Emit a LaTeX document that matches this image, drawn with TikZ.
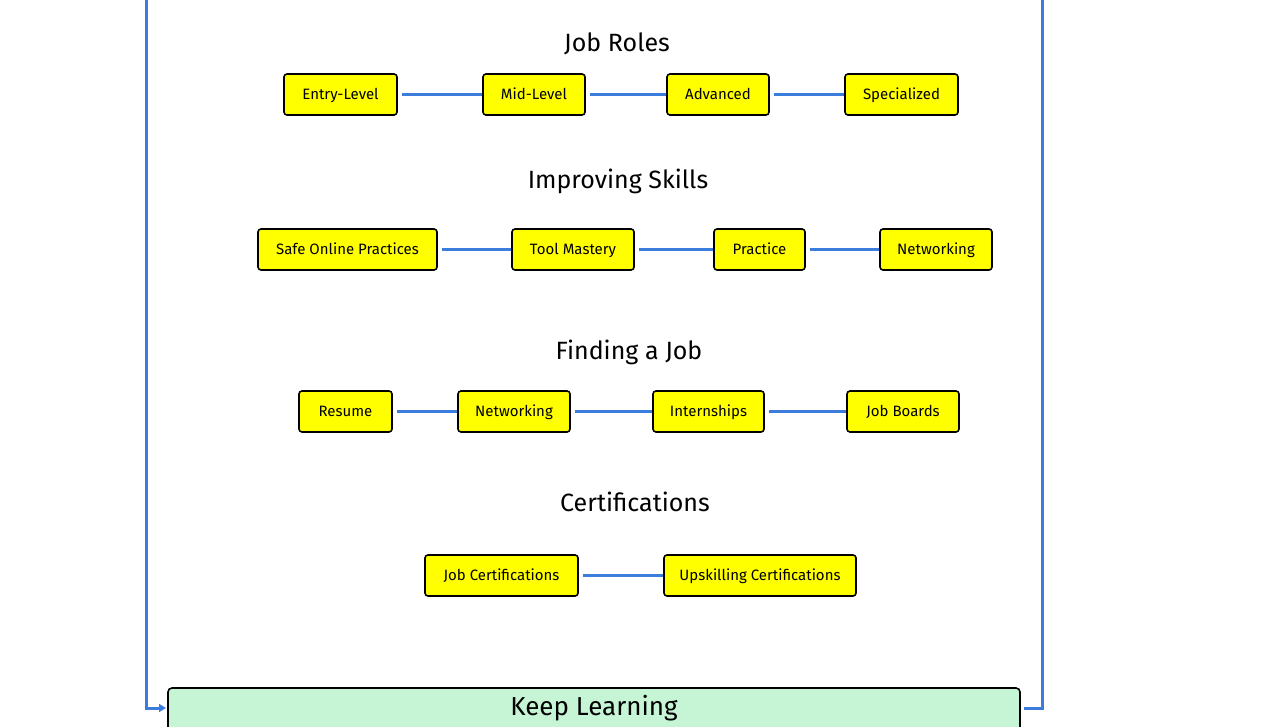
\documentclass[tikz,border=0pt]{standalone}
\usepackage{fontspec}
\setmainfont{Fira Sans}
\usetikzlibrary{arrows.meta}
\definecolor{linkblue}{HTML}{3B7DDD}
\definecolor{boxyellow}{HTML}{FFFF00}
\definecolor{learngreen}{HTML}{C6F5D6}
\tikzset{
  itembox/.style={draw=black, line width=1.6pt, rounded corners=3pt, fill=boxyellow,
    minimum height=41pt, inner sep=0pt, text height=10.3pt, text depth=0pt,
    font=\fontsize{15}{18}\selectfont},
  titletext/.style={font=\fontsize{25}{30}\selectfont, inner sep=0pt, text height=17.2pt, text depth=0pt},
  link/.style={draw=linkblue, line width=3pt, shorten <=4pt},
  flow/.style={draw=linkblue, line width=3pt}
}
\begin{document}
\begin{tikzpicture}[x=1pt,y=-1pt]
\useasboundingbox (0,0) rectangle (1268,727);
% titles
\node[titletext] (t1) at (617,43) {Job Roles};
\node[titletext] (t2) at (618,180) {Improving Skills};
\node[titletext] (t3) at (629,351) {Finding a Job};
\node[titletext] (t4) at (635,503) {Certifications};
% row 1
\node[itembox, minimum width=113pt] (a1) at (340.5,94.5) {Entry-Level};
\node[itembox, minimum width=102pt] (a2) at (534,94.5) {Mid-Level};
\node[itembox, minimum width=102pt] (a3) at (718,94.5) {Advanced};
\node[itembox, minimum width=113pt] (a4) at (901.5,94.5) {Specialized};
\draw[link] (a1) -- (a2);
\draw[link] (a2) -- (a3);
\draw[link] (a3) -- (a4);
% row 2
\node[itembox, minimum width=179pt] (b1) at (347.5,249.5) {Safe Online Practices};
\node[itembox, minimum width=122pt] (b2) at (573,249.5) {Tool Mastery};
\node[itembox, minimum width=91pt] (b3) at (759.5,249.5) {Practice};
\node[itembox, minimum width=112pt] (b4) at (936,249.5) {Networking};
\draw[link] (b1) -- (b2);
\draw[link] (b2) -- (b3);
\draw[link] (b3) -- (b4);
% row 3
\node[itembox, minimum width=93pt] (c1) at (345.5,411.5) {Resume};
\node[itembox, minimum width=112pt] (c2) at (514,411.5) {Networking};
\node[itembox, minimum width=111pt] (c3) at (708.5,411.5) {Internships};
\node[itembox, minimum width=112pt] (c4) at (903,411.5) {Job Boards};
\draw[link] (c1) -- (c2);
\draw[link] (c2) -- (c3);
\draw[link] (c3) -- (c4);
% row 4
\node[itembox, minimum width=153pt] (d1) at (501.5,575.5) {Job Certifications};
\node[itembox, minimum width=192pt] (d2) at (760,575.5) {Upskilling Certifications};
\draw[link] (d1) -- (d2);
% keep learning
\draw[draw=black, line width=1.6pt, rounded corners=4pt, fill=learngreen]
  (168,740) -- (168,688) -- (1020,688) -- (1020,740);
\node[font=\fontsize{26}{30}\selectfont, inner sep=0pt, text height=17.9pt, text depth=0pt] (kl) at (594,707) {Keep Learning};
\coordinate (kin) at (166,708);
\coordinate (kout) at (1024,708);
\coordinate (ltop) at (146,-2);
\coordinate (rtop) at (1042,-2);
\draw[flow, -{Triangle[length=7pt,width=8pt]}] (ltop) |- (kin);
\draw[flow] (kout) -| (rtop);
\end{tikzpicture}
\end{document}
